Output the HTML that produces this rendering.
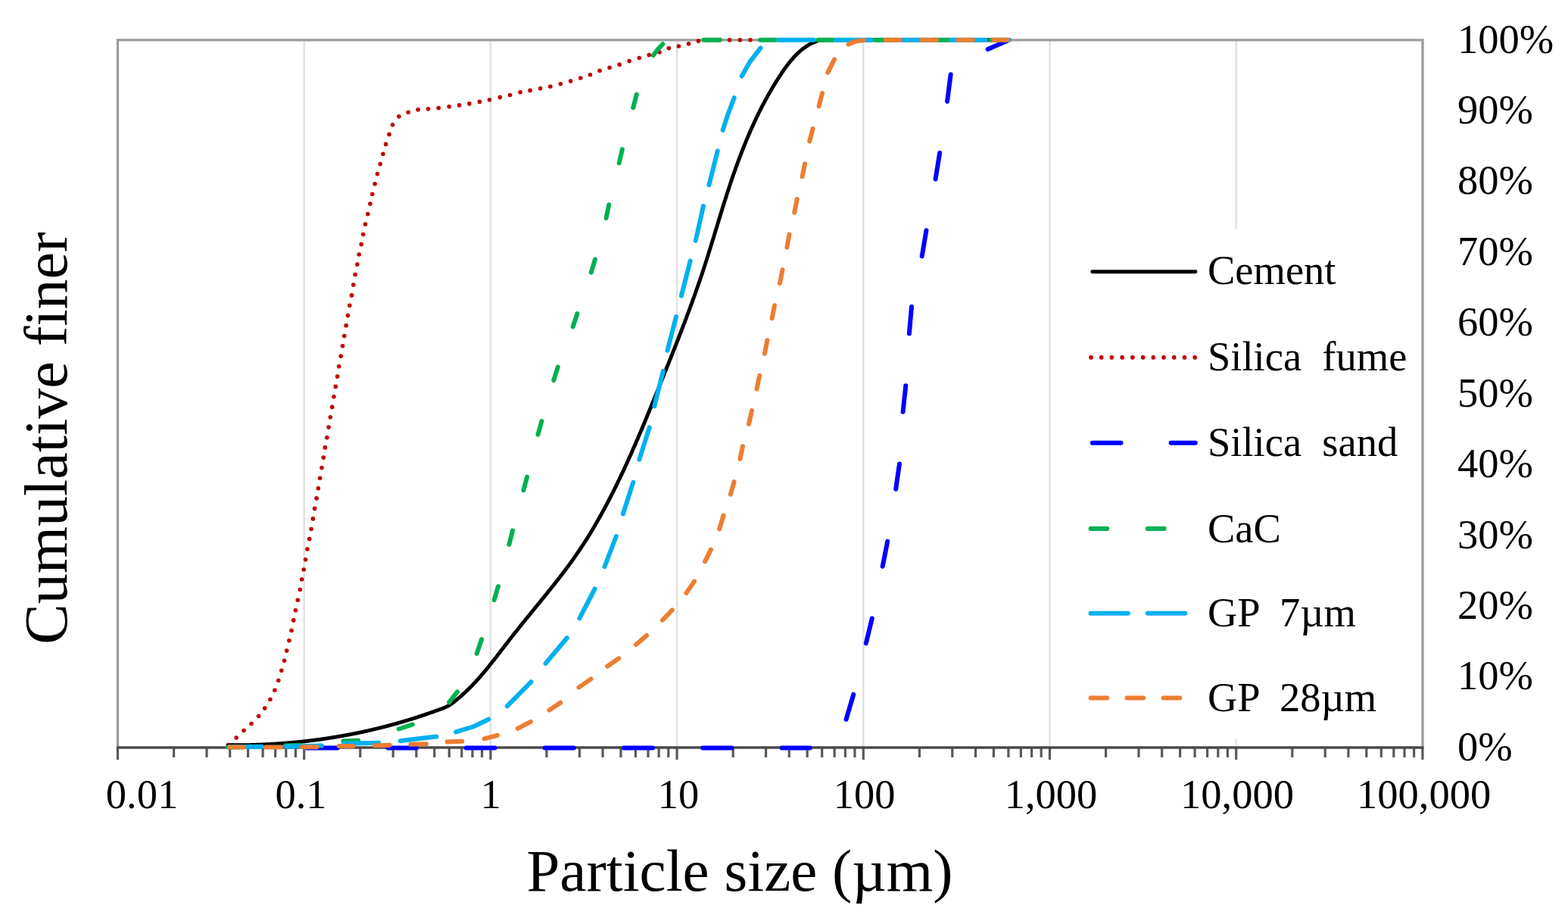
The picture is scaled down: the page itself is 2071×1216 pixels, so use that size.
<!DOCTYPE html>
<html><head><meta charset="utf-8"><title>Particle size distribution</title>
<style>
html,body{margin:0;padding:0;background:#fff;}
body{width:2071px;height:1216px;overflow:hidden;}
svg{display:block;}
text{font-family:"Liberation Serif","Times New Roman",serif;fill:#000;}
</style></head><body>
<svg width="2071" height="1216" viewBox="0 0 2071 1216">
<rect x="0" y="0" width="2071" height="1216" fill="#fff"/>
<g stroke="#e2e2e2" stroke-width="2.6"><line x1="401.7" y1="52.8" x2="401.7" y2="987.0"/><line x1="647.9" y1="52.8" x2="647.9" y2="987.0"/><line x1="894.1" y1="52.8" x2="894.1" y2="987.0"/><line x1="1140.3" y1="52.8" x2="1140.3" y2="987.0"/><line x1="1386.5" y1="52.8" x2="1386.5" y2="987.0"/><line x1="1632.7" y1="52.8" x2="1632.7" y2="987.0"/></g>
<path d="M155.5,987.0 V52.8 H1879 V987.0" fill="none" stroke="#9c9c9c" stroke-width="3.3"/>
<g stroke="#595959" stroke-width="3.2"><line x1="155.5" y1="987.0" x2="155.5" y2="1003"/><line x1="229.6" y1="987.0" x2="229.6" y2="1000"/><line x1="273.0" y1="987.0" x2="273.0" y2="1000"/><line x1="303.7" y1="987.0" x2="303.7" y2="1000"/><line x1="327.6" y1="987.0" x2="327.6" y2="1000"/><line x1="347.1" y1="987.0" x2="347.1" y2="1000"/><line x1="363.6" y1="987.0" x2="363.6" y2="1000"/><line x1="377.8" y1="987.0" x2="377.8" y2="1000"/><line x1="390.4" y1="987.0" x2="390.4" y2="1000"/><line x1="401.7" y1="987.0" x2="401.7" y2="1003"/><line x1="475.8" y1="987.0" x2="475.8" y2="1000"/><line x1="519.2" y1="987.0" x2="519.2" y2="1000"/><line x1="549.9" y1="987.0" x2="549.9" y2="1000"/><line x1="573.8" y1="987.0" x2="573.8" y2="1000"/><line x1="593.3" y1="987.0" x2="593.3" y2="1000"/><line x1="609.8" y1="987.0" x2="609.8" y2="1000"/><line x1="624.0" y1="987.0" x2="624.0" y2="1000"/><line x1="636.6" y1="987.0" x2="636.6" y2="1000"/><line x1="647.9" y1="987.0" x2="647.9" y2="1003"/><line x1="722.0" y1="987.0" x2="722.0" y2="1000"/><line x1="765.4" y1="987.0" x2="765.4" y2="1000"/><line x1="796.1" y1="987.0" x2="796.1" y2="1000"/><line x1="820.0" y1="987.0" x2="820.0" y2="1000"/><line x1="839.5" y1="987.0" x2="839.5" y2="1000"/><line x1="856.0" y1="987.0" x2="856.0" y2="1000"/><line x1="870.2" y1="987.0" x2="870.2" y2="1000"/><line x1="882.8" y1="987.0" x2="882.8" y2="1000"/><line x1="894.1" y1="987.0" x2="894.1" y2="1003"/><line x1="968.2" y1="987.0" x2="968.2" y2="1000"/><line x1="1011.6" y1="987.0" x2="1011.6" y2="1000"/><line x1="1042.3" y1="987.0" x2="1042.3" y2="1000"/><line x1="1066.2" y1="987.0" x2="1066.2" y2="1000"/><line x1="1085.7" y1="987.0" x2="1085.7" y2="1000"/><line x1="1102.2" y1="987.0" x2="1102.2" y2="1000"/><line x1="1116.4" y1="987.0" x2="1116.4" y2="1000"/><line x1="1129.0" y1="987.0" x2="1129.0" y2="1000"/><line x1="1140.3" y1="987.0" x2="1140.3" y2="1003"/><line x1="1214.4" y1="987.0" x2="1214.4" y2="1000"/><line x1="1257.8" y1="987.0" x2="1257.8" y2="1000"/><line x1="1288.5" y1="987.0" x2="1288.5" y2="1000"/><line x1="1312.4" y1="987.0" x2="1312.4" y2="1000"/><line x1="1331.9" y1="987.0" x2="1331.9" y2="1000"/><line x1="1348.4" y1="987.0" x2="1348.4" y2="1000"/><line x1="1362.6" y1="987.0" x2="1362.6" y2="1000"/><line x1="1375.2" y1="987.0" x2="1375.2" y2="1000"/><line x1="1386.5" y1="987.0" x2="1386.5" y2="1003"/><line x1="1460.6" y1="987.0" x2="1460.6" y2="1000"/><line x1="1504.0" y1="987.0" x2="1504.0" y2="1000"/><line x1="1534.7" y1="987.0" x2="1534.7" y2="1000"/><line x1="1558.6" y1="987.0" x2="1558.6" y2="1000"/><line x1="1578.1" y1="987.0" x2="1578.1" y2="1000"/><line x1="1594.6" y1="987.0" x2="1594.6" y2="1000"/><line x1="1608.8" y1="987.0" x2="1608.8" y2="1000"/><line x1="1621.4" y1="987.0" x2="1621.4" y2="1000"/><line x1="1632.7" y1="987.0" x2="1632.7" y2="1003"/><line x1="1706.8" y1="987.0" x2="1706.8" y2="1000"/><line x1="1750.2" y1="987.0" x2="1750.2" y2="1000"/><line x1="1780.9" y1="987.0" x2="1780.9" y2="1000"/><line x1="1804.8" y1="987.0" x2="1804.8" y2="1000"/><line x1="1824.3" y1="987.0" x2="1824.3" y2="1000"/><line x1="1840.8" y1="987.0" x2="1840.8" y2="1000"/><line x1="1855.0" y1="987.0" x2="1855.0" y2="1000"/><line x1="1867.6" y1="987.0" x2="1867.6" y2="1000"/><line x1="1878.9" y1="987.0" x2="1878.9" y2="1003"/></g>
<line x1="154.0" y1="987.0" x2="1880.5" y2="987.0" stroke="#4a4a4a" stroke-width="3.5"/>
<path d="M300.9,983.7 L301.4,983.7 L301.9,983.7 L302.4,983.7 L302.9,983.7 L303.4,983.7 L303.9,983.7 L304.4,983.7 L304.9,983.7 L305.4,983.7 L305.8,983.7 L306.3,983.7 L306.8,983.7 L307.3,983.8 L307.8,983.8 L308.3,983.8 L308.8,983.8 L309.3,983.8 L309.8,983.8 L310.3,983.8 L310.8,983.8 L311.3,983.8 L311.8,983.8 L312.3,983.8 L312.8,983.8 L313.3,983.8 L313.7,983.8 L314.2,983.8 L314.7,983.8 L315.2,983.8 L315.7,983.8 L316.2,983.8 L316.7,983.8 L317.2,983.7 L317.7,983.7 L318.2,983.7 L318.7,983.7 L319.2,983.7 L319.7,983.7 L320.2,983.7 L320.7,983.7 L321.1,983.7 L321.6,983.7 L322.1,983.7 L322.6,983.7 L323.1,983.7 L323.6,983.7 L324.1,983.7 L324.6,983.7 L325.1,983.7 L325.6,983.7 L326.1,983.6 L326.6,983.6 L327.1,983.6 L327.6,983.6 L328.0,983.6 L328.5,983.6 L329.0,983.6 L329.5,983.6 L330.0,983.6 L330.5,983.6 L331.0,983.5 L331.5,983.5 L332.0,983.5 L332.5,983.5 L333.0,983.5 L333.5,983.5 L334.0,983.5 L334.5,983.5 L334.9,983.4 L335.4,983.4 L335.9,983.4 L336.4,983.4 L336.9,983.4 L337.4,983.4 L337.9,983.4 L338.4,983.3 L338.9,983.3 L339.4,983.3 L339.9,983.3 L340.4,983.3 L340.9,983.3 L341.4,983.2 L341.8,983.2 L342.3,983.2 L342.8,983.2 L343.3,983.2 L343.8,983.2 L344.3,983.1 L344.8,983.1 L345.3,983.1 L345.8,983.1 L346.3,983.1 L346.8,983.0 L347.3,983.0 L347.8,983.0 L348.2,983.0 L348.7,983.0 L349.2,982.9 L349.7,982.9 L350.2,982.9 L350.7,982.9 L351.2,982.8 L351.7,982.8 L352.2,982.8 L352.7,982.8 L353.2,982.7 L353.7,982.7 L354.1,982.7 L354.6,982.7 L355.1,982.6 L355.6,982.6 L356.1,982.6 L356.6,982.6 L357.1,982.5 L357.6,982.5 L358.1,982.5 L358.6,982.5 L359.1,982.4 L359.6,982.4 L360.0,982.4 L360.5,982.3 L361.0,982.3 L361.5,982.3 L362.0,982.3 L362.5,982.2 L363.0,982.2 L363.5,982.2 L364.0,982.1 L364.5,982.1 L365.0,982.1 L365.4,982.0 L365.9,982.0 L366.4,982.0 L366.9,981.9 L367.4,981.9 L367.9,981.9 L368.4,981.8 L368.9,981.8 L369.4,981.8 L369.9,981.7 L370.4,981.7 L370.8,981.7 L371.3,981.6 L371.8,981.6 L372.3,981.6 L372.8,981.5 L373.3,981.5 L373.8,981.4 L374.3,981.4 L374.8,981.4 L375.3,981.3 L375.7,981.3 L376.2,981.3 L376.7,981.2 L377.2,981.2 L377.7,981.1 L378.2,981.1 L378.7,981.1 L379.2,981.0 L379.7,981.0 L380.2,980.9 L380.7,980.9 L381.1,980.9 L381.6,980.8 L382.1,980.8 L382.6,980.7 L383.1,980.7 L383.6,980.6 L384.1,980.6 L384.6,980.6 L385.1,980.5 L385.5,980.5 L386.0,980.4 L386.5,980.4 L387.0,980.3 L387.5,980.3 L388.0,980.2 L388.5,980.2 L389.0,980.2 L389.5,980.1 L390.0,980.1 L390.4,980.0 L390.9,980.0 L391.4,979.9 L391.9,979.9 L392.4,979.8 L392.9,979.8 L393.4,979.7 L393.9,979.7 L394.4,979.6 L394.8,979.6 L395.3,979.5 L395.8,979.5 L396.3,979.4 L396.8,979.4 L397.3,979.3 L397.8,979.3 L398.3,979.2 L398.8,979.2 L399.2,979.1 L399.7,979.1 L400.2,979.0 L400.7,979.0 L401.2,978.9 L401.7,978.8 L402.2,978.8 L402.7,978.7 L403.1,978.7 L403.6,978.6 L404.1,978.6 L404.6,978.5 L405.1,978.5 L405.6,978.4 L406.1,978.3 L406.6,978.3 L407.1,978.2 L407.5,978.2 L408.0,978.1 L408.5,978.1 L409.0,978.0 L409.5,977.9 L410.0,977.9 L410.5,977.8 L411.0,977.8 L411.4,977.7 L411.9,977.6 L412.4,977.6 L412.9,977.5 L413.4,977.5 L413.9,977.4 L414.4,977.3 L414.8,977.3 L415.3,977.2 L415.8,977.1 L416.3,977.1 L416.8,977.0 L417.3,977.0 L417.8,976.9 L418.3,976.8 L418.7,976.8 L419.2,976.7 L419.7,976.6 L420.2,976.6 L420.7,976.5 L421.2,976.4 L421.7,976.4 L422.1,976.3 L422.6,976.2 L423.1,976.2 L423.6,976.1 L424.1,976.0 L424.6,976.0 L425.1,975.9 L425.6,975.8 L426.0,975.8 L426.5,975.7 L427.0,975.6 L427.5,975.5 L428.0,975.5 L428.5,975.4 L429.0,975.3 L429.4,975.3 L429.9,975.2 L430.4,975.1 L430.9,975.0 L431.4,975.0 L431.9,974.9 L432.4,974.8 L432.8,974.7 L433.3,974.7 L433.8,974.6 L434.3,974.5 L434.8,974.5 L435.3,974.4 L435.7,974.3 L436.2,974.2 L436.7,974.1 L437.2,974.1 L437.7,974.0 L438.2,973.9 L438.7,973.8 L439.1,973.8 L439.6,973.7 L440.1,973.6 L440.6,973.5 L441.1,973.5 L441.6,973.4 L442.0,973.3 L442.5,973.2 L443.0,973.1 L443.5,973.1 L444.0,973.0 L444.5,972.9 L445.0,972.8 L445.4,972.7 L445.9,972.6 L446.4,972.6 L446.9,972.5 L447.4,972.4 L447.9,972.3 L448.3,972.2 L448.8,972.1 L449.3,972.1 L449.8,972.0 L450.3,971.9 L450.8,971.8 L451.2,971.7 L451.7,971.6 L452.2,971.6 L452.7,971.5 L453.2,971.4 L453.7,971.3 L454.1,971.2 L454.6,971.1 L455.1,971.0 L455.6,970.9 L456.1,970.9 L456.6,970.8 L457.0,970.7 L457.5,970.6 L458.0,970.5 L458.5,970.4 L459.0,970.3 L459.4,970.2 L459.9,970.1 L460.4,970.0 L460.9,970.0 L461.4,969.9 L461.9,969.8 L462.3,969.7 L462.8,969.6 L463.3,969.5 L463.8,969.4 L464.3,969.3 L464.7,969.2 L465.2,969.1 L465.7,969.0 L466.2,968.9 L466.7,968.8 L467.2,968.7 L467.6,968.6 L468.1,968.5 L468.6,968.5 L469.1,968.4 L469.6,968.3 L470.0,968.2 L470.5,968.1 L471.0,968.0 L471.5,967.9 L472.0,967.8 L472.4,967.7 L472.9,967.6 L473.4,967.5 L473.9,967.4 L474.4,967.3 L474.8,967.2 L475.3,967.1 L475.8,967.0 L476.3,966.9 L476.8,966.8 L477.2,966.7 L477.7,966.6 L478.2,966.5 L478.7,966.4 L479.2,966.3 L479.6,966.1 L480.1,966.0 L480.6,965.9 L481.1,965.8 L481.6,965.7 L482.0,965.6 L482.5,965.5 L483.0,965.4 L483.5,965.3 L484.0,965.2 L484.4,965.1 L484.9,965.0 L485.4,964.9 L485.9,964.8 L486.4,964.7 L486.8,964.6 L487.3,964.4 L487.8,964.3 L488.3,964.2 L488.7,964.1 L489.2,964.0 L489.7,963.9 L490.2,963.8 L490.7,963.7 L491.1,963.6 L491.6,963.5 L492.1,963.3 L492.6,963.2 L493.0,963.1 L493.5,963.0 L494.0,962.9 L494.5,962.8 L495.0,962.7 L495.4,962.6 L495.9,962.4 L496.4,962.3 L496.9,962.2 L497.3,962.1 L497.8,962.0 L498.3,961.9 L498.8,961.8 L499.3,961.6 L499.7,961.5 L500.2,961.4 L500.7,961.3 L501.2,961.2 L501.6,961.0 L502.1,960.9 L502.6,960.8 L503.1,960.7 L503.5,960.6 L504.0,960.5 L504.5,960.3 L505.0,960.2 L505.4,960.1 L505.9,960.0 L506.4,959.9 L506.9,959.7 L507.3,959.6 L507.8,959.5 L508.3,959.4 L508.8,959.2 L509.2,959.1 L509.7,959.0 L510.2,958.9 L510.7,958.7 L511.1,958.6 L511.6,958.5 L512.1,958.4 L512.6,958.2 L513.0,958.1 L513.5,958.0 L514.0,957.9 L514.5,957.7 L514.9,957.6 L515.4,957.5 L515.9,957.4 L516.4,957.2 L516.8,957.1 L517.3,957.0 L517.8,956.9 L518.3,956.7 L518.7,956.6 L519.2,956.5 L519.7,956.3 L520.2,956.2 L520.6,956.1 L521.1,955.9 L521.6,955.8 L522.1,955.7 L522.5,955.5 L523.0,955.4 L523.5,955.3 L523.9,955.2 L524.4,955.0 L524.9,954.9 L525.4,954.8 L525.8,954.6 L526.3,954.5 L526.8,954.3 L527.3,954.2 L527.7,954.1 L528.2,953.9 L528.7,953.8 L529.1,953.7 L529.6,953.5 L530.1,953.4 L530.6,953.3 L531.0,953.1 L531.5,953.0 L532.0,952.8 L532.4,952.7 L532.9,952.6 L533.4,952.4 L533.9,952.3 L534.3,952.2 L534.8,952.0 L535.3,951.9 L535.7,951.7 L536.2,951.6 L536.7,951.4 L537.2,951.3 L537.6,951.2 L538.1,951.0 L538.6,950.9 L539.0,950.7 L539.5,950.6 L540.0,950.4 L540.4,950.3 L540.9,950.2 L541.4,950.0 L541.9,949.9 L542.3,949.7 L542.8,949.6 L543.3,949.4 L543.7,949.3 L544.2,949.1 L544.7,949.0 L545.1,948.8 L545.6,948.7 L546.1,948.6 L546.6,948.4 L547.0,948.3 L547.5,948.1 L548.0,948.0 L548.4,947.8 L548.9,947.7 L549.4,947.5 L549.8,947.4 L550.3,947.2 L550.8,947.1 L551.2,946.9 L551.7,946.8 L552.2,946.6 L552.6,946.5 L553.1,946.3 L553.6,946.1 L554.0,946.0 L554.5,945.8 L555.0,945.7 L555.4,945.5 L555.9,945.4 L556.4,945.2 L556.9,945.1 L557.3,944.9 L557.8,944.8 L558.3,944.6 L558.7,944.4 L559.2,944.3 L559.7,944.1 L560.1,944.0 L560.6,943.8 L561.1,943.7 L561.5,943.5 L562.0,943.3 L562.4,943.2 L562.9,943.0 L563.4,942.9 L563.8,942.7 L564.3,942.5 L564.8,942.4 L565.2,942.2 L565.7,942.1 L566.2,941.9 L566.6,941.7 L567.1,941.6 L567.6,941.4 L568.0,941.3 L568.5,941.1 L569.0,940.9 L569.4,940.8 L569.9,940.6 L570.4,940.4 L570.8,940.3 L571.3,940.1 L571.8,939.9 L572.2,939.8 L572.7,939.6 L573.1,939.4 L573.6,939.3 L574.1,939.1 L574.5,938.9 L575.0,938.8 L575.5,938.6 L575.9,938.4 L576.4,938.3 L576.9,938.1 L577.3,937.9 L577.8,937.8 L578.2,937.6 L578.7,937.4 L579.2,937.2 L579.6,937.1 L580.1,936.9 L580.6,936.7 L581.0,936.6 L581.5,936.4 L581.9,936.2 L582.4,936.0 L583.8,935.6 L585.2,935.1 L586.5,934.6 L587.8,934.0 L589.1,933.4 L590.4,932.8 L591.7,932.2 L592.9,931.5 L594.1,930.7 L595.3,929.9 L596.7,928.9 L598.2,927.8 L599.6,926.7 L601.0,925.6 L602.4,924.5 L603.8,923.4 L605.1,922.2 L606.5,921.1 L607.8,920.0 L609.2,918.8 L610.5,917.6 L611.8,916.4 L613.1,915.2 L614.4,914.0 L615.7,912.8 L616.9,911.6 L618.2,910.4 L619.5,909.2 L620.7,907.9 L622.0,906.7 L623.2,905.4 L624.4,904.2 L625.6,902.9 L626.8,901.6 L628.0,900.3 L629.2,899.0 L630.4,897.7 L631.6,896.4 L632.7,895.1 L633.9,893.8 L635.1,892.5 L636.2,891.1 L637.3,889.8 L638.5,888.5 L639.6,887.1 L640.8,885.8 L641.9,884.4 L643.0,883.1 L644.1,881.7 L645.2,880.3 L646.3,879.0 L647.4,877.6 L648.5,876.2 L649.6,874.8 L650.7,873.4 L651.8,872.1 L652.9,870.7 L654.0,869.3 L655.1,867.9 L656.2,866.5 L657.2,865.1 L658.3,863.7 L659.4,862.3 L660.5,860.9 L661.6,859.5 L662.6,858.1 L663.7,856.7 L664.8,855.3 L665.9,853.9 L666.9,852.5 L668.0,851.1 L669.1,849.7 L670.2,848.3 L671.3,846.9 L672.3,845.5 L673.4,844.1 L674.5,842.7 L675.6,841.3 L676.7,839.9 L677.8,838.5 L678.9,837.1 L680.0,835.7 L681.1,834.3 L682.2,833.0 L683.3,831.6 L684.4,830.2 L685.5,828.8 L686.6,827.4 L687.7,826.0 L688.8,824.7 L689.9,823.3 L691.0,821.9 L692.2,820.5 L693.3,819.2 L694.4,817.8 L695.5,816.4 L696.6,815.0 L697.8,813.7 L698.9,812.3 L700.0,810.9 L701.1,809.6 L702.2,808.2 L703.4,806.8 L704.5,805.4 L705.6,804.1 L706.7,802.7 L707.8,801.3 L709.0,800.0 L710.1,798.6 L711.2,797.2 L712.3,795.8 L713.5,794.5 L714.6,793.1 L715.7,791.7 L716.8,790.4 L717.9,789.0 L719.0,787.6 L720.2,786.2 L721.3,784.9 L722.4,783.5 L723.5,782.1 L724.6,780.7 L725.7,779.4 L726.8,778.0 L727.9,776.6 L729.0,775.2 L730.1,773.8 L731.2,772.4 L732.3,771.1 L733.4,769.7 L734.5,768.3 L735.6,766.9 L736.7,765.5 L737.8,764.1 L738.9,762.7 L739.9,761.3 L741.0,759.9 L742.1,758.5 L743.2,757.1 L744.2,755.7 L745.3,754.3 L746.4,752.9 L747.4,751.5 L748.5,750.1 L749.5,748.7 L750.6,747.2 L751.6,745.8 L752.7,744.4 L753.7,743.0 L754.7,741.6 L755.8,740.1 L756.8,738.7 L757.8,737.3 L758.8,735.8 L759.8,734.4 L760.8,732.9 L761.8,731.5 L762.8,730.0 L763.8,728.6 L764.8,727.1 L765.8,725.7 L766.8,724.2 L767.8,722.7 L768.7,721.3 L769.7,719.8 L770.7,718.3 L771.6,716.8 L772.6,715.3 L773.5,713.9 L774.5,712.4 L775.4,710.9 L776.3,709.4 L777.3,707.9 L778.2,706.4 L779.1,704.9 L780.0,703.4 L780.9,701.9 L781.9,700.4 L782.8,698.9 L783.7,697.4 L784.6,695.8 L785.5,694.3 L786.3,692.8 L787.2,691.3 L788.1,689.8 L789.0,688.2 L789.9,686.7 L790.7,685.2 L791.6,683.6 L792.5,682.1 L793.3,680.6 L794.2,679.0 L795.0,677.5 L795.9,675.9 L796.7,674.4 L797.6,672.8 L798.4,671.3 L799.3,669.7 L800.1,668.2 L800.9,666.6 L801.7,665.1 L802.6,663.5 L803.4,661.9 L804.2,660.4 L805.0,658.8 L805.8,657.2 L806.6,655.7 L807.4,654.1 L808.2,652.5 L809.0,650.9 L809.8,649.4 L810.6,647.8 L811.4,646.2 L812.2,644.6 L813.0,643.0 L813.8,641.5 L814.5,639.9 L815.3,638.3 L816.1,636.7 L816.8,635.1 L817.6,633.5 L818.4,631.9 L819.1,630.3 L819.9,628.7 L820.7,627.2 L821.4,625.6 L822.2,624.0 L822.9,622.4 L823.7,620.8 L824.4,619.2 L825.1,617.6 L825.9,616.0 L826.6,614.4 L827.4,612.8 L828.1,611.2 L828.8,609.5 L829.6,607.9 L830.3,606.3 L831.0,604.7 L831.7,603.1 L832.5,601.5 L833.2,599.9 L833.9,598.3 L834.6,596.7 L835.3,595.1 L836.0,593.4 L836.7,591.8 L837.4,590.2 L838.2,588.6 L838.9,587.0 L839.6,585.4 L840.3,583.7 L841.0,582.1 L841.7,580.5 L842.4,578.9 L843.1,577.3 L843.7,575.6 L844.4,574.0 L845.1,572.4 L845.8,570.8 L846.5,569.1 L847.2,567.5 L847.9,565.9 L848.6,564.3 L849.3,562.6 L849.9,561.0 L850.6,559.4 L851.3,557.7 L852.0,556.1 L852.7,554.5 L853.3,552.9 L854.0,551.2 L854.7,549.6 L855.4,548.0 L856.0,546.3 L856.7,544.7 L857.4,543.1 L858.0,541.4 L858.7,539.8 L859.4,538.2 L860.0,536.5 L860.7,534.9 L861.4,533.2 L862.0,531.6 L862.7,530.0 L863.4,528.3 L864.0,526.7 L864.7,525.1 L865.4,523.4 L866.0,521.8 L866.7,520.1 L867.4,518.5 L868.0,516.9 L868.7,515.2 L869.3,513.6 L870.0,511.9 L870.7,510.3 L871.3,508.7 L872.0,507.0 L872.6,505.4 L873.3,503.7 L874.0,502.1 L874.6,500.5 L875.3,498.8 L876.0,497.2 L876.6,495.5 L877.3,493.9 L877.9,492.3 L878.6,490.6 L879.3,489.0 L879.9,487.3 L880.6,485.7 L881.2,484.0 L881.9,482.4 L882.5,480.8 L883.2,479.1 L883.9,477.5 L884.5,475.8 L885.2,474.2 L885.8,472.5 L886.5,470.9 L887.1,469.3 L887.8,467.6 L888.4,466.0 L889.1,464.3 L889.8,462.7 L890.4,461.0 L891.1,459.4 L891.7,457.7 L892.4,456.1 L893.0,454.4 L893.6,452.8 L894.3,451.1 L894.9,449.5 L895.6,447.9 L896.2,446.2 L896.9,444.6 L897.5,442.9 L898.2,441.3 L898.8,439.6 L899.4,438.0 L900.1,436.3 L900.7,434.7 L901.3,433.0 L902.0,431.4 L902.6,429.7 L903.2,428.1 L903.9,426.4 L904.5,424.7 L905.1,423.1 L905.8,421.4 L906.4,419.8 L907.0,418.1 L907.6,416.5 L908.2,414.8 L908.9,413.2 L909.5,411.5 L910.1,409.9 L910.7,408.2 L911.3,406.5 L911.9,404.9 L912.5,403.2 L913.2,401.6 L913.8,399.9 L914.4,398.3 L915.0,396.6 L915.6,394.9 L916.2,393.3 L916.8,391.6 L917.4,390.0 L918.0,388.3 L918.6,386.6 L919.1,385.0 L919.7,383.3 L920.3,381.7 L920.9,380.0 L921.5,378.3 L922.1,376.7 L922.6,375.0 L923.2,373.3 L923.8,371.7 L924.4,370.0 L924.9,368.3 L925.5,366.7 L926.1,365.0 L926.6,363.3 L927.2,361.7 L927.7,360.0 L928.3,358.3 L928.8,356.7 L929.4,355.0 L929.9,353.3 L930.5,351.6 L931.0,350.0 L931.6,348.3 L932.1,346.6 L932.6,345.0 L933.2,343.3 L933.7,341.6 L934.2,339.9 L934.8,338.3 L935.3,336.6 L935.8,334.9 L936.3,333.2 L936.9,331.6 L937.4,329.9 L937.9,328.2 L938.4,326.5 L939.0,324.8 L939.5,323.2 L940.0,321.5 L940.5,319.8 L941.0,318.1 L941.5,316.4 L942.1,314.8 L942.6,313.1 L943.1,311.4 L943.6,309.7 L944.1,308.0 L944.6,306.4 L945.1,304.7 L945.6,303.0 L946.1,301.3 L946.7,299.6 L947.2,298.0 L947.7,296.3 L948.2,294.6 L948.7,292.9 L949.2,291.2 L949.7,289.6 L950.3,287.9 L950.8,286.2 L951.3,284.5 L951.8,282.8 L952.3,281.1 L952.8,279.5 L953.4,277.8 L953.9,276.1 L954.4,274.4 L954.9,272.7 L955.4,271.1 L956.0,269.4 L956.5,267.7 L957.0,266.0 L957.6,264.3 L958.1,262.7 L958.6,261.0 L959.2,259.3 L959.7,257.6 L960.2,255.9 L960.8,254.3 L961.3,252.6 L961.9,250.9 L962.4,249.2 L963.0,247.5 L963.5,245.9 L964.1,244.2 L964.6,242.5 L965.2,240.8 L965.8,239.1 L966.3,237.5 L966.9,235.8 L967.5,234.1 L968.0,232.4 L968.6,230.8 L969.2,229.1 L969.8,227.4 L970.4,225.7 L971.0,224.1 L971.6,222.4 L972.2,220.7 L972.8,219.1 L973.4,217.4 L974.0,215.7 L974.6,214.0 L975.2,212.4 L975.8,210.7 L976.5,209.0 L977.1,207.4 L977.7,205.7 L978.4,204.0 L979.0,202.4 L979.6,200.7 L980.3,199.1 L980.9,197.4 L981.6,195.7 L982.3,194.1 L982.9,192.4 L983.6,190.8 L984.3,189.1 L984.9,187.5 L985.6,185.8 L986.3,184.2 L987.0,182.5 L987.7,180.9 L988.4,179.3 L989.1,177.6 L989.8,176.0 L990.5,174.3 L991.2,172.7 L991.9,171.1 L992.7,169.5 L993.4,167.8 L994.1,166.2 L994.9,164.6 L995.6,163.0 L996.4,161.3 L997.1,159.7 L997.9,158.1 L998.6,156.5 L999.4,154.9 L1000.2,153.3 L1000.9,151.7 L1001.7,150.1 L1002.5,148.5 L1003.3,146.9 L1004.1,145.3 L1004.9,143.7 L1005.7,142.2 L1006.5,140.6 L1007.3,139.0 L1008.2,137.4 L1009.0,135.9 L1009.8,134.3 L1010.7,132.7 L1011.5,131.2 L1012.4,129.6 L1013.2,128.1 L1014.1,126.5 L1015.0,125.0 L1015.8,123.4 L1016.7,121.9 L1017.6,120.4 L1018.5,118.8 L1019.4,117.3 L1020.3,115.8 L1021.2,114.3 L1022.1,112.8 L1023.0,111.2 L1023.9,109.7 L1024.9,108.2 L1025.8,106.7 L1026.8,105.3 L1027.7,103.8 L1028.7,102.3 L1029.6,100.8 L1030.6,99.3 L1031.6,97.9 L1032.5,96.4 L1033.5,94.9 L1034.5,93.5 L1035.5,92.0 L1036.5,90.6 L1037.6,89.2 L1038.6,87.8 L1039.6,86.4 L1040.7,85.0 L1041.8,83.6 L1042.8,82.3 L1043.9,80.9 L1045.0,79.6 L1046.1,78.3 L1047.2,77.0 L1048.4,75.7 L1049.5,74.5 L1050.7,73.3 L1051.9,72.1 L1053.1,70.9 L1054.3,69.7 L1055.5,68.6 L1056.8,67.5 L1058.0,66.4 L1059.3,65.4 L1060.6,64.3 L1061.9,63.4 L1063.3,62.4 L1064.6,61.5 L1066.0,60.6 L1067.4,59.7 L1068.8,58.9 L1070.3,58.1 L1071.7,57.4 L1073.2,56.7 L1074.7,56.0 L1076.3,55.4 L1077.8,54.8 L1079.4,54.2 L1081.0,53.7 L1082.7,53.2 L1084.3,52.8 L1086.0,52.8 L1087.7,52.8 L1089.5,52.8 L1091.2,52.8 L1093.0,52.8 L1094.9,52.8 L1096.7,52.8 L1098.6,52.8 L1100.5,52.8 L1102.5,52.8 L1104.4,52.8 L1106.4,52.8 L1108.5,52.8 L1110.6,52.8 L1112.7,52.8 L1333.0,52.8" fill="none" stroke="#000" stroke-width="4.9" stroke-linecap="round" stroke-linejoin="round"/>
<g fill="#c00000"><circle cx="312.1" cy="974.0" r="2.8"/><circle cx="322.0" cy="964.5" r="2.8"/><circle cx="332.0" cy="955.5" r="2.8"/><circle cx="341.6" cy="945.5" r="2.8"/><circle cx="349.7" cy="935.1" r="2.8"/><circle cx="356.9" cy="923.5" r="2.8"/><circle cx="362.9" cy="911.2" r="2.8"/><circle cx="367.8" cy="898.5" r="2.8"/><circle cx="371.8" cy="885.3" r="2.8"/><circle cx="375.6" cy="872.3" r="2.8"/><circle cx="378.7" cy="859.1" r="2.8"/><circle cx="381.9" cy="845.7" r="2.8"/><circle cx="385.0" cy="832.5" r="2.8"/><circle cx="387.7" cy="818.9" r="2.8"/><circle cx="390.4" cy="805.7" r="2.8"/><circle cx="393.3" cy="792.2" r="2.8"/><circle cx="396.3" cy="778.5" r="2.8"/><circle cx="398.7" cy="765.0" r="2.8"/><circle cx="401.2" cy="752.0" r="2.8"/><circle cx="403.6" cy="738.7" r="2.8"/><circle cx="405.9" cy="725.0" r="2.8"/><circle cx="408.7" cy="711.6" r="2.8"/><circle cx="411.1" cy="698.5" r="2.8"/><circle cx="413.4" cy="684.9" r="2.8"/><circle cx="415.6" cy="671.4" r="2.8"/><circle cx="418.1" cy="657.9" r="2.8"/><circle cx="420.3" cy="644.7" r="2.8"/><circle cx="422.6" cy="631.2" r="2.8"/><circle cx="425.0" cy="617.6" r="2.8"/><circle cx="427.3" cy="604.1" r="2.8"/><circle cx="429.4" cy="590.9" r="2.8"/><circle cx="431.8" cy="577.8" r="2.8"/><circle cx="434.1" cy="564.1" r="2.8"/><circle cx="436.3" cy="550.7" r="2.8"/><circle cx="438.7" cy="537.4" r="2.8"/><circle cx="441.0" cy="523.8" r="2.8"/><circle cx="443.3" cy="510.4" r="2.8"/><circle cx="445.6" cy="497.1" r="2.8"/><circle cx="447.7" cy="483.7" r="2.8"/><circle cx="450.2" cy="470.3" r="2.8"/><circle cx="452.5" cy="456.7" r="2.8"/><circle cx="454.8" cy="443.6" r="2.8"/><circle cx="457.1" cy="429.8" r="2.8"/><circle cx="459.4" cy="416.6" r="2.8"/><circle cx="461.8" cy="403.3" r="2.8"/><circle cx="464.5" cy="389.9" r="2.8"/><circle cx="466.8" cy="376.1" r="2.8"/><circle cx="469.1" cy="362.5" r="2.8"/><circle cx="471.9" cy="349.1" r="2.8"/><circle cx="474.2" cy="336.0" r="2.8"/><circle cx="477.2" cy="322.6" r="2.8"/><circle cx="479.7" cy="309.5" r="2.8"/><circle cx="482.5" cy="296.1" r="2.8"/><circle cx="485.8" cy="282.6" r="2.8"/><circle cx="488.9" cy="269.1" r="2.8"/><circle cx="491.8" cy="256.3" r="2.8"/><circle cx="495.1" cy="242.8" r="2.8"/><circle cx="498.5" cy="229.6" r="2.8"/><circle cx="502.2" cy="216.6" r="2.8"/><circle cx="505.9" cy="203.3" r="2.8"/><circle cx="509.6" cy="190.4" r="2.8"/><circle cx="514.0" cy="177.4" r="2.8"/><circle cx="518.5" cy="164.8" r="2.8"/><circle cx="526.9" cy="153.7" r="2.8"/><circle cx="539.2" cy="148.2" r="2.8"/><circle cx="552.1" cy="144.8" r="2.8"/><circle cx="565.6" cy="143.8" r="2.8"/><circle cx="579.2" cy="142.6" r="2.8"/><circle cx="593.2" cy="140.8" r="2.8"/><circle cx="606.6" cy="138.9" r="2.8"/><circle cx="619.9" cy="136.9" r="2.8"/><circle cx="633.5" cy="134.4" r="2.8"/><circle cx="646.5" cy="131.7" r="2.8"/><circle cx="660.3" cy="128.4" r="2.8"/><circle cx="673.6" cy="125.5" r="2.8"/><circle cx="687.1" cy="121.8" r="2.8"/><circle cx="700.1" cy="119.4" r="2.8"/><circle cx="713.6" cy="116.8" r="2.8"/><circle cx="726.9" cy="114.2" r="2.8"/><circle cx="740.4" cy="110.7" r="2.8"/><circle cx="753.7" cy="107.1" r="2.8"/><circle cx="766.8" cy="103.0" r="2.8"/><circle cx="779.5" cy="98.7" r="2.8"/><circle cx="792.1" cy="93.3" r="2.8"/><circle cx="805.1" cy="89.3" r="2.8"/><circle cx="818.2" cy="85.3" r="2.8"/><circle cx="831.2" cy="80.6" r="2.8"/><circle cx="844.3" cy="76.5" r="2.8"/><circle cx="857.3" cy="72.6" r="2.8"/><circle cx="871.1" cy="69.0" r="2.8"/><circle cx="883.4" cy="63.6" r="2.8"/><circle cx="896.4" cy="61.0" r="2.8"/><circle cx="909.5" cy="57.7" r="2.8"/><circle cx="922.5" cy="54.1" r="2.8"/><circle cx="936.0" cy="52.8" r="2.8"/><circle cx="949.5" cy="52.8" r="2.8"/><circle cx="963.5" cy="52.8" r="2.8"/><circle cx="977.3" cy="52.8" r="2.8"/><circle cx="991.0" cy="52.8" r="2.8"/></g>
<circle cx="302.5" cy="982.3" r="1.7" fill="#c00000" fill-opacity="0.6"/>
<path d="M405.2,987.6 L445.8,987.6M512.4,987.6 L549.9,987.6M615.7,987.6 L653.5,987.6M719.7,987.6 L757.8,987.6M824.0,987.6 L862.1,987.6M928.2,987.6 L966.4,987.6M1032.6,987.6 L1069.7,987.6M1117.6,949.8 L1127.3,916.9M1143.8,849.4 L1151.8,816.5M1165.7,747.8 L1172.3,714.7M1183.2,645.8 L1188.0,612.4M1192.6,543.8 L1196.3,509.2M1200.9,440.4 L1204.0,405.0M1217.7,338.4 L1223.5,304.1M1235.6,236.5 L1241.2,201.8M1251.1,133.9 L1255.7,98.2M1304.7,65.0 L1330.5,53.8" fill="none" stroke="#0000ff" stroke-width="6.0" stroke-linecap="round" stroke-linejoin="round"/>
<path d="M301.2,986.5 L320.8,986.3M377.2,984.5 L396.8,984.0M453.4,978.5 L473.2,977.8M526.7,962.5 L544.8,956.6M593.2,927.3 L604.0,913.4M629.7,862.9 L636.2,844.0M652.7,792.2 L658.1,774.2M672.4,718.9 L677.1,700.6M691.5,647.3 L696.1,629.7M710.5,573.7 L715.5,556.1M731.3,502.1 L736.8,484.6M756.7,431.4 L762.4,414.2M780.8,359.7 L786.0,342.5M800.6,288.0 L804.3,270.3M817.7,215.3 L821.9,197.1M836.2,142.2 L840.8,124.7M862.9,73.0 L869.0,65.0 L875.4,58.3M929.6,52.8 L951.1,52.8M1004.2,52.8 L1024.4,52.8M1080.2,52.8 L1100.0,52.8M1156.2,52.8 L1175.8,52.8M1232.2,52.8 L1251.8,52.8M1308.2,52.8 L1327.8,52.8" fill="none" stroke="#00b050" stroke-width="6.0" stroke-linecap="round" stroke-linejoin="round"/>
<path d="M304.2,986.3 L345.8,985.8M377.7,985.7 L424.8,984.4M454.2,981.8 L500.2,980.8M528.8,978.3 L540.0,976.8 L576.5,972.6M602.1,966.4 L625.0,959.5 L645.3,949.7M669.8,932.3 L701.4,900.3M720.6,875.9 L748.9,842.3M765.4,816.4 L785.6,777.5M798.5,748.2 L813.9,708.0M822.9,678.5 L836.3,636.8M844.4,606.7 L857.8,564.3M864.2,536.4 L875.9,490.0M881.5,462.8 L893.1,418.1M899.9,390.7 L911.7,344.5M918.8,317.8 L929.0,272.0M936.5,244.2 L947.8,199.2M954.7,171.9 L961.0,152.0 L969.7,129.1M979.7,100.5 L991.0,80.8 L1004.5,63.4M1028.2,52.8 L1074.8,52.8M1104.2,52.8 L1150.8,52.8M1180.2,52.8 L1225.8,52.8M1256.2,52.8 L1301.8,52.8M1329.0,52.8 L1333.0,52.8" fill="none" stroke="#00b0f0" stroke-width="6.0" stroke-linecap="round" stroke-linejoin="round"/>
<path d="M303.1,986.5 L321.9,986.5M350.9,986.5 L371.1,986.5M398.7,986.3 L418.2,986.3M447.7,985.0 L466.4,985.0M495.0,984.2 L514.7,983.8M542.3,982.7 L563.0,982.3M590.6,979.4 L610.3,978.8M639.6,975.3 L657.0,970.8M683.8,961.9 L701.0,952.8M725.6,937.6 L740.2,927.7M764.5,907.6 L780.6,896.4M802.2,879.7 L817.3,869.3M840.1,851.1 L854.1,838.9M875.1,818.8 L887.8,805.5M906.4,783.1 L917.0,767.6M931.1,741.4 L939.0,725.7M950.1,698.5 L955.6,680.5M964.9,652.6 L969.6,636.1M977.4,606.0 L981.0,589.2M989.0,559.9 L993.0,542.1M999.5,513.6 L1003.2,495.8M1009.9,467.0 L1013.5,449.2M1019.6,420.4 L1023.1,403.3M1029.9,374.0 L1033.6,356.2M1039.5,326.6 L1042.4,309.5M1049.2,280.7 L1052.8,262.9M1059.6,233.3 L1063.1,216.2M1069.3,186.6 L1073.6,169.8M1081.5,140.3 L1086.0,123.0M1093.4,95.7 L1102.0,78.5M1120.7,58.6 L1130.0,54.5 L1140.8,53.1M1169.6,52.8 L1188.8,52.8M1217.2,52.8 L1236.8,52.8M1265.2,52.8 L1284.8,52.8M1312.2,52.8 L1330.8,52.8" fill="none" stroke="#ed7d31" stroke-width="6.0" stroke-linecap="round" stroke-linejoin="round"/>
<g font-size="54.5"><text x="1925" y="1003.8">0%</text><text x="1925" y="910.4">10%</text><text x="1925" y="817.0">20%</text><text x="1925" y="723.5">30%</text><text x="1925" y="630.1">40%</text><text x="1925" y="536.7">50%</text><text x="1925" y="443.3">60%</text><text x="1925" y="349.9">70%</text><text x="1925" y="256.4">80%</text><text x="1925" y="163.0">90%</text><text x="1925" y="69.6">100%</text></g>
<g font-size="54.5" text-anchor="middle"><text x="187.5" y="1066.5">0.01</text><text x="397.5" y="1066.5">0.1</text><text x="648" y="1066.5">1</text><text x="896" y="1066.5">10</text><text x="1141.5" y="1066.5">100</text><text x="1388" y="1066.5">1,000</text><text x="1634" y="1066.5">10,000</text><text x="1880.6" y="1066.5">100,000</text></g>
<text x="977" y="1175.5" font-size="79" text-anchor="middle">Particle size (µm)</text>
<text transform="translate(88,578.5) rotate(-90)" font-size="80" text-anchor="middle">Cumulative finer</text>
<rect x="1418" y="302" width="452" height="674" fill="#fff"/>
<path d="M1442.7,358.8 L1579.0,358.8" fill="none" stroke="#000" stroke-width="4.9" stroke-linecap="round" stroke-linejoin="round"/>
<g fill="#c00000"><circle cx="1441.0" cy="471.9" r="2.8"/><circle cx="1454.7" cy="471.9" r="2.8"/><circle cx="1468.4" cy="471.9" r="2.8"/><circle cx="1482.2" cy="471.9" r="2.8"/><circle cx="1495.9" cy="471.9" r="2.8"/><circle cx="1509.6" cy="471.9" r="2.8"/><circle cx="1523.3" cy="471.9" r="2.8"/><circle cx="1537.0" cy="471.9" r="2.8"/><circle cx="1550.8" cy="471.9" r="2.8"/><circle cx="1564.5" cy="471.9" r="2.8"/><circle cx="1578.2" cy="471.9" r="2.8"/></g>
<path d="M1442.9,584.8 L1480.5,584.8M1546.6,584.8 L1578.8,584.8" fill="none" stroke="#0000ff" stroke-width="6.0" stroke-linecap="round" stroke-linejoin="round"/>
<path d="M1440.6,698.1 L1462.3,698.1M1515.8,698.1 L1537.6,698.1" fill="none" stroke="#00b050" stroke-width="6.0" stroke-linecap="round" stroke-linejoin="round"/>
<path d="M1440.6,809.7 L1489.9,809.7M1515.8,809.7 L1565.2,809.7" fill="none" stroke="#00b0f0" stroke-width="6.0" stroke-linecap="round" stroke-linejoin="round"/>
<path d="M1440.6,921.4 L1462.3,921.4M1488.6,921.4 L1510.2,921.4M1536.6,921.4 L1558.3,921.4" fill="none" stroke="#ed7d31" stroke-width="6.0" stroke-linecap="round" stroke-linejoin="round"/>
<text x="1595" y="374.8" font-size="54.5" xml:space="preserve">Cement</text>
<text x="1595" y="489" font-size="54.5" xml:space="preserve">Silica  fume</text>
<text x="1595" y="601.5" font-size="54.5" xml:space="preserve">Silica  sand</text>
<text x="1595" y="716.3" font-size="54.5" xml:space="preserve">CaC</text>
<text x="1595" y="827" font-size="54.5" xml:space="preserve">GP  7µm</text>
<text x="1595" y="938.7" font-size="54.5" xml:space="preserve">GP  28µm</text>
</svg>
</body></html>
